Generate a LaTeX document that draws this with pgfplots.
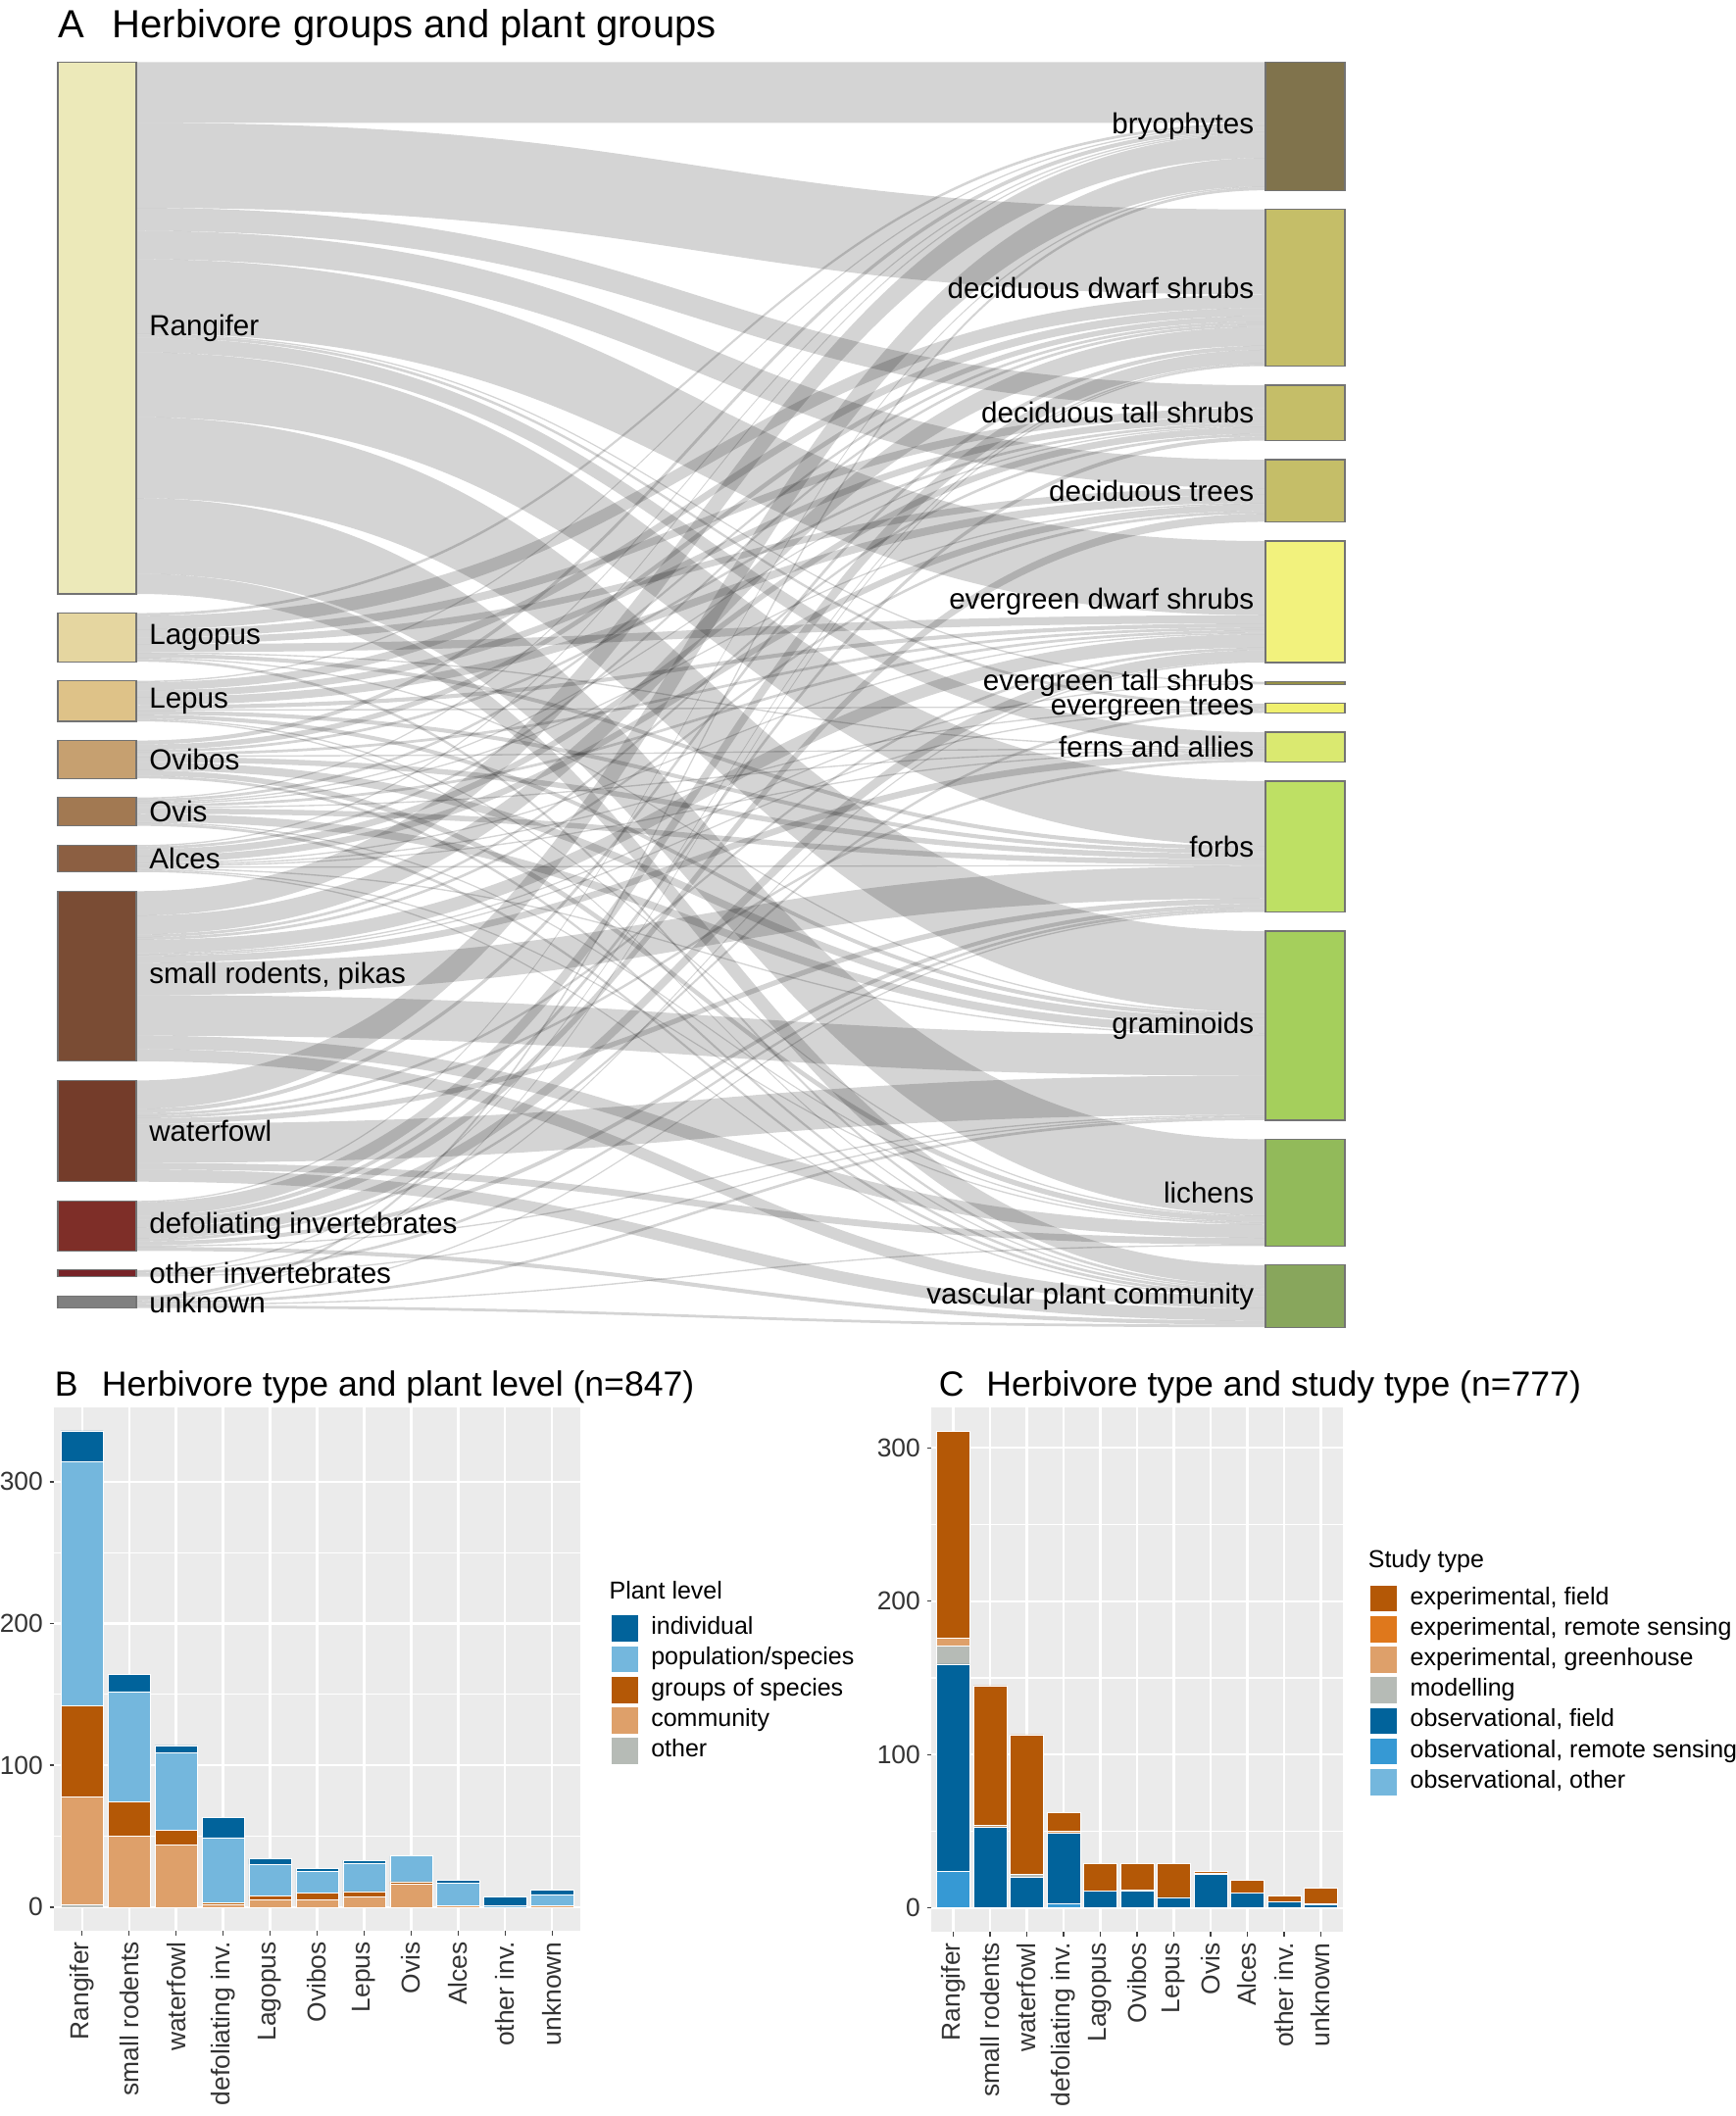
\documentclass[border=0pt]{standalone}
\usepackage{pgfplots}
\pgfplotsset{compat=1.18}
\usepackage{pgfplotstable}
\usepackage{fontspec}
\setmainfont{Liberation Sans}

% ---------------- colours ----------------
\definecolor{bgp}{RGB}{235,235,235}
\definecolor{cIndiv}{RGB}{1,99,155}
\definecolor{cPop}{RGB}{116,183,221}
\definecolor{cGroups}{RGB}{180,88,6}
\definecolor{cComm}{RGB}{222,160,106}
\definecolor{cOther}{RGB}{182,187,182}
\definecolor{cExpRS}{RGB}{223,120,28}
\definecolor{cObsRS}{RGB}{54,153,212}
\definecolor{cR}{RGB}{236,233,185}
\definecolor{cLa}{RGB}{229,214,160}
\definecolor{cLe}{RGB}{222,194,136}
\definecolor{cOvb}{RGB}{198,160,112}
\definecolor{cOvs}{RGB}{162,121,82}
\definecolor{cAl}{RGB}{140,95,66}
\definecolor{cSR}{RGB}{122,76,52}
\definecolor{cW}{RGB}{116,60,42}
\definecolor{cD}{RGB}{126,46,40}
\definecolor{cOI}{RGB}{120,36,40}
\definecolor{cU}{RGB}{128,128,128}
\definecolor{cbry}{RGB}{128,115,76}
\definecolor{cdds}{RGB}{197,190,104}
\definecolor{ceds}{RGB}{242,242,125}
\definecolor{cets}{RGB}{150,145,70}
\definecolor{cetr}{RGB}{240,240,110}
\definecolor{cfern}{RGB}{218,233,112}
\definecolor{cforbs}{RGB}{190,224,100}
\definecolor{cgram}{RGB}{165,207,92}
\definecolor{clich}{RGB}{146,186,90}
\definecolor{cvpc}{RGB}{136,166,92}

\newcommand\labfont{\fontsize{7.4}{8.5}\selectfont}
\newcommand\tickfont{\fontsize{6.6}{7.5}\selectfont}
\newcommand\legfont{\fontsize{6.25}{7}\selectfont}
\def\gapu{14.2}

% ---------------- data ----------------
% herbivore group (rows) -> plant group (columns), sankey flows
\pgfplotstableread{
herb bry dds dts dtr eds ets etr fern forbs gram lich vpc
R   45 63 17 21 55 1 2 11 48 60 56 15
La   2 10  6  5  6 0 0  1  3  1  0  2
Le   1  6  5  6  3 0 1  0  3  3  1  1
Ovb  3  4  2  0  2 0 0  1  4  6  4  2
Ovs  1  2  1  1  2 0 0  1  4  6  1  2
Al   1  2  5  5  1 0 1  1  1  1  1  1
SR  18 14  2  2 10 1 1  5 24 30 10  9
W   21  3  0  0  2 0 0  2  4 29  5  9
D    1 10  3  6  8 0 2  0  3  1  0  3
OI   0  1  0  0  1 0 0  0  2  1  0  0
U    2  1  0  0  0 0 0  0  1  2  1  2
}\flowtable

\pgfplotstableread{
x other comm groups pop indiv
1 2 76 64 172 22
2 0 50 24 78 12
3 0 44 10 55 5
4 0 2 1 46 14
5 0 5 3 22 4
6 0 5 5 15 2
7 0 7 4 20 2
8 0 16 2 18 0
9 0 1 0 16 2
10 0 0 0 1 6
11 0 1 0 8 3
}\plantlevel

\pgfplotstableread{
x obsother obsrs obsfield model expgh exprs expfield
1 0 24 135 12 5 0 135
2 0 0 53 0 1 0 91
3 0 0 20 2 0 0 91
4 0 3 46 0 1 0 12
5 0 0 11 0 0 0 18
6 0 0 11 0 1 0 17
7 0 0 7 0 0 0 22
8 0 0 22 0 1 0 1
9 0 0 10 0 0 0 8
10 0 0 4 0 0 0 4
11 0 0 2 0 1 0 10
}\studytype

\tikzset{flow/.style={fill=black, fill opacity=0.17, draw=none}}

\pgfplotsset{
  barpanel/.style={
    scale only axis,
    ybar stacked, bar width=0.9,
    every axis plot/.append style={draw=white, line width=0.15pt,
      legend image code/.code={\fill[##1] (0pt,-3.45pt) rectangle (7pt,3.45pt);}},
    xmin=0.4, xmax=11.6,
    axis background/.style={fill=bgp},
    axis line style={draw=none},
    xmajorgrids, ymajorgrids, yminorgrids,
    major grid style={white, line width=0.6pt},
    minor grid style={white, line width=0.3pt},
    xtick={1,...,11},
    xticklabels={Rangifer, small rodents, waterfowl, defoliating inv., Lagopus, Ovibos, Lepus, Ovis, Alces, other inv., unknown},
    ytick={0,100,200,300}, minor ytick={50,150,250},
    tick pos=left,
    tick align=outside, major tick length=1.1pt, minor tick length=0pt,
    tick style={black!75, line width=0.35pt},
    xticklabel style={rotate=90, anchor=east, font=\tickfont, text=black!80, inner sep=1.5pt},
    yticklabel style={font=\tickfont, text=black!80, inner sep=1.5pt},
    /pgf/number format/assume math mode=true,
    reverse legend,
    legend cell align=left,
  }
}

\begin{document}
\begin{tikzpicture}
\useasboundingbox (0pt,0pt) rectangle (442.5pt,-539.75pt);

% ---------------- titles ----------------
\node[anchor=base west, inner sep=0pt, font=\fontsize{10}{12}\selectfont] at (14.75pt,-9.65pt) {A};
\node[anchor=base west, inner sep=0pt, font=\fontsize{10}{12}\selectfont] at (28.5pt,-9.65pt) {Herbivore groups and plant groups};
\node[anchor=base west, inner sep=0pt, font=\fontsize{8.9}{11}\selectfont] at (13.75pt,-356pt) {B};
\node[anchor=base west, inner sep=0pt, font=\fontsize{8.9}{11}\selectfont] at (25.75pt,-356pt) {Herbivore type and plant level (n=847)};
\node[anchor=base west, inner sep=0pt, font=\fontsize{8.9}{11}\selectfont] at (239.25pt,-356pt) {C};
\node[anchor=base west, inner sep=0pt, font=\fontsize{8.9}{11}\selectfont] at (251.4pt,-356pt) {Herbivore type and study type (n=777)};

% ---------------- panel A : alluvial ----------------
\begin{axis}[
  at={(14.75pt,-15.825pt)}, anchor=north west,
  width=328.25pt, height=322.72pt, scale only axis,
  xmin=59, xmax=1372, ymin=0, ymax=937.2, y dir=reverse,
  hide axis, clip=false]
\pgfplotsextra{%
  % left strata
  \xdef\cum{0}%
  \foreach \h in {0,...,10}{%
    \xdef\rs{0}%
    \foreach \p in {1,...,12}{%
      \pgfplotstablegetelem{\h}{[index]\p}\of\flowtable
      \pgfmathsetmacro\tmpv{\rs+\pgfplotsretval}%
      \xdef\rs{\tmpv}%
    }%
    \expandafter\xdef\csname ltop\h\endcsname{\cum}%
    \pgfmathsetmacro\tmpv{\cum+\rs}%
    \expandafter\xdef\csname lbot\h\endcsname{\tmpv}%
    \pgfmathsetmacro\tmpv{\cum+\rs+\gapu}%
    \xdef\cum{\tmpv}%
  }%
  % right strata
  \xdef\cum{0}%
  \foreach \p in {1,...,12}{%
    \xdef\csum{0}%
    \foreach \h in {0,...,10}{%
      \pgfplotstablegetelem{\h}{[index]\p}\of\flowtable
      \pgfmathsetmacro\tmpv{\csum+\pgfplotsretval}%
      \xdef\csum{\tmpv}%
    }%
    \expandafter\xdef\csname rtop\p\endcsname{\cum}%
    \expandafter\xdef\csname roff\p\endcsname{\cum}%
    \pgfmathsetmacro\tmpv{\cum+\csum}%
    \expandafter\xdef\csname rbot\p\endcsname{\tmpv}%
    \pgfmathsetmacro\tmpv{\cum+\csum+\gapu}%
    \xdef\cum{\tmpv}%
  }%
  % flows
  \foreach \h in {0,...,10}{%
    \xdef\loff{\csname ltop\h\endcsname}%
    \foreach \p in {1,...,12}{%
      \pgfplotstablegetelem{\h}{[index]\p}\of\flowtable
      \pgfmathsetmacro\fv{\pgfplotsretval}%
      \ifdim\fv pt>0pt
        \edef\ya{\loff}%
        \pgfmathsetmacro\yc{\loff+\fv}%
        \edef\yb{\csname roff\p\endcsname}%
        \pgfmathsetmacro\yd{\yb+\fv}%
        \fill[flow] (axis cs:139,\ya) .. controls (axis cs:715,\ya) and (axis cs:715,\yb) .. (axis cs:1291,\yb)
           -- (axis cs:1291,\yd) .. controls (axis cs:715,\yd) and (axis cs:715,\yc) .. (axis cs:139,\yc) -- cycle;
        \xdef\loff{\yc}%
        \expandafter\xdef\csname roff\p\endcsname{\yd}%
      \fi
    }%
  }%
  % left boxes and labels
  \foreach \h/\col/\name in {0/cR/Rangifer, 1/cLa/Lagopus, 2/cLe/Lepus, 3/cOvb/Ovibos, 4/cOvs/Ovis, 5/cAl/Alces, 6/cSR/{small rodents, pikas}, 7/cW/waterfowl, 8/cD/{defoliating invertebrates}, 9/cOI/{other invertebrates}, 10/cU/unknown}{%
    \edef\ya{\csname ltop\h\endcsname}%
    \edef\yb{\csname lbot\h\endcsname}%
    \pgfmathsetmacro\ym{(\ya+\yb)/2}%
    \fill[fill=\col, draw=black!55, line width=0.3pt] (axis cs:59,\ya) rectangle (axis cs:139,\yb);
    \node[anchor=west, inner sep=0pt, font=\labfont] at (axis cs:151.5,\ym) {\name};
  }%
  % right boxes and labels
  \foreach \p/\col/\name in {1/cbry/bryophytes, 2/cdds/{deciduous dwarf shrubs}, 3/cdds/{deciduous tall shrubs}, 4/cdds/{deciduous trees}, 5/ceds/{evergreen dwarf shrubs}, 6/cets/{evergreen tall shrubs}, 7/cetr/{evergreen trees}, 8/cfern/{ferns and allies}, 9/cforbs/forbs, 10/cgram/graminoids, 11/clich/lichens, 12/cvpc/{vascular plant community}}{%
    \edef\ya{\csname rtop\p\endcsname}%
    \edef\yb{\csname rbot\p\endcsname}%
    \pgfmathsetmacro\ym{(\ya+\yb)/2}%
    \fill[fill=\col, draw=black!55, line width=0.3pt] (axis cs:1291,\ya) rectangle (axis cs:1372,\yb);
    \node[anchor=east, inner sep=0pt, font=\labfont] at (axis cs:1280,\ym) {\name};
  }%
}
\end{axis}

% ---------------- panel B ----------------
\begin{axis}[barpanel,
  at={(13.75pt,-358.875pt)}, anchor=north west,
  width=134.25pt, height=133.65pt,
  ymin=-16.8, ymax=352.8,
  legend style={at={(1.0553,0.605)}, anchor=north west, draw=none, fill=none,
    font=\legfont, inner sep=0pt, row sep=0.75pt,
    nodes={inner xsep=3.3pt, inner ysep=0pt}},
]
\addplot[fill=cOther] table[x=x,y=other]{\plantlevel};
\addplot[fill=cComm] table[x=x,y=comm]{\plantlevel};
\addplot[fill=cGroups] table[x=x,y=groups]{\plantlevel};
\addplot[fill=cPop] table[x=x,y=pop]{\plantlevel};
\addplot[fill=cIndiv] table[x=x,y=indiv]{\plantlevel};
\legend{other, community, groups of species, population/species, individual}
\end{axis}
\node[anchor=base west, inner sep=0pt, font=\legfont] at (155.2pt,-407.9pt) {Plant level};

% ---------------- panel C ----------------
\begin{axis}[barpanel,
  at={(237.5pt,-358.925pt)}, anchor=north west,
  width=105pt, height=133.85pt,
  ymin=-15.55, ymax=326.55,
  legend style={at={(1.0619,0.6632)}, anchor=north west, draw=none, fill=none,
    font=\legfont, inner sep=0pt, row sep=0.75pt,
    nodes={inner xsep=3.3pt, inner ysep=0pt}},
]
\addplot[fill=cPop] table[x=x,y=obsother]{\studytype};
\addplot[fill=cObsRS] table[x=x,y=obsrs]{\studytype};
\addplot[fill=cIndiv] table[x=x,y=obsfield]{\studytype};
\addplot[fill=cOther] table[x=x,y=model]{\studytype};
\addplot[fill=cComm] table[x=x,y=expgh]{\studytype};
\addplot[fill=cExpRS] table[x=x,y=exprs]{\studytype};
\addplot[fill=cGroups] table[x=x,y=expfield]{\studytype};
\legend{{observational, other}, {observational, remote sensing}, {observational, field}, modelling, {experimental, greenhouse}, {experimental, remote sensing}, {experimental, field}}
\end{axis}
\node[anchor=base west, inner sep=0pt, font=\legfont] at (348.75pt,-399.8pt) {Study type};

\end{tikzpicture}
\end{document}
